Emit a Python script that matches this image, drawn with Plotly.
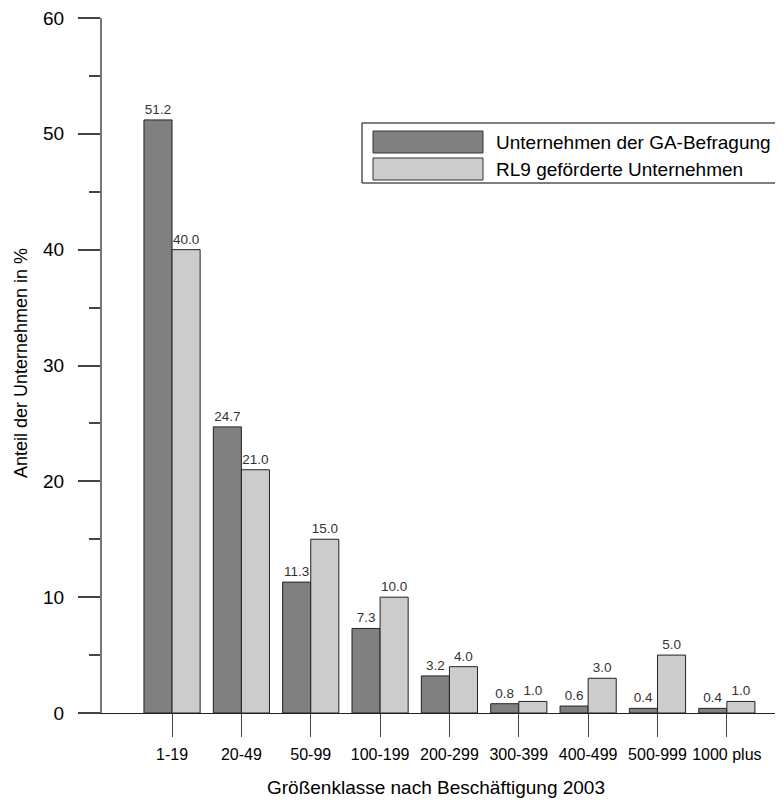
import plotly.graph_objects as go

categories = ["1-19", "20-49", "50-99", "100-199", "200-299", "300-399", "400-499", "500-999", "1000 plus"]
ga_values = [51.2, 24.7, 11.3, 7.3, 3.2, 0.8, 0.6, 0.4, 0.4]
rl9_values = [40.0, 21.0, 15.0, 10.0, 4.0, 1.0, 3.0, 5.0, 1.0]
series_names = ["Unternehmen der GA-Befragung", "RL9 geförderte Unternehmen"]
y_ticks = [0, 10, 20, 30, 40, 50, 60]

OFF = 8  # browser body margin
W, H = 775, 801
L, R, T, B = 94, 0, 10, 96
pw, ph = W - L - R, H - T - B

def px(x):  # window pixel -> paper
    return (x - OFF - L) / pw

def py(y):
    return (H - B - (y - OFF)) / ph

font = "Liberation Sans, Arial, sans-serif"
dark = "#808080"
light = "#cccccc"

fig = go.Figure()
for name, vals, col in [(series_names[0], ga_values, dark), (series_names[1], rl9_values, light)]:
    fig.add_trace(go.Bar(
        x=categories, y=vals, name=name,
        marker=dict(color=col, line=dict(color="#222222", width=1)),
        text=[f"{v:.1f}" for v in vals], textposition="outside",
        textfont=dict(family=font, size=13.5, color="#333333"),
        cliponaxis=False, showlegend=False,
    ))

fig.update_layout(
    width=W, height=H,
    margin=dict(l=L, r=R, t=T, b=B, autoexpand=False),
    paper_bgcolor="white", plot_bgcolor="white",
    barmode="group", bargap=0.19, bargroupgap=0,
    font=dict(family=font, color="#000000"),
    uniformtext=dict(mode=False),
)
fig.update_xaxes(
    type="category", range=[-1.01, 8.81],
    showgrid=False, zeroline=False,
    showline=True, linecolor="#222222", linewidth=1,
    ticks="outside", ticklen=23, tickcolor="#444444", tickwidth=1,
    tickfont=dict(family=font, size=16, color="#000000"),
    ticklabelstandoff=4, ticklabeloverflow="allow",
)
fig.update_yaxes(
    range=[0, 60], tickvals=y_ticks,
    showgrid=False, zeroline=False,
    showline=True, linecolor="#777777", linewidth=2,
    ticks="outside", ticklen=22, tickcolor="#444444", tickwidth=1.5,
    tickfont=dict(family=font, size=19, color="#000000"),
    ticklabelstandoff=10, ticklabeloverflow="allow",
    minor=dict(dtick=5, ticks="outside", ticklen=11, tickcolor="#444444", tickwidth=1.5, showgrid=False),
)

# axis titles
fig.add_annotation(text="Größenklasse nach Beschäftigung 2003", xref="paper", yref="paper",
                   x=px(436), y=py(787), showarrow=False, font=dict(family=font, size=19, color="#000"),
                   xanchor="center", yanchor="middle")
fig.add_annotation(text="Anteil der Unternehmen in %", xref="paper", yref="paper",
                   x=px(21), y=py(363), showarrow=False, textangle=-90,
                   font=dict(family=font, size=18, color="#000"), xanchor="center", yanchor="middle")

# legend drawn manually
fig.add_shape(type="rect", xref="paper", yref="paper", x0=px(362), x1=px(782.5), y0=py(183), y1=py(123),
              line=dict(color="#000000", width=1), fillcolor="white", layer="above")
for i, (name, col) in enumerate([(series_names[0], dark), (series_names[1], light)]):
    y0 = 131 + i * 27
    fig.add_shape(type="rect", xref="paper", yref="paper", x0=px(373), x1=px(483),
                  y0=py(y0 + 22), y1=py(y0), line=dict(color="#333333", width=1), fillcolor=col, layer="above")
    fig.add_annotation(text=name, xref="paper", yref="paper", x=px(494), y=py(y0 + 11), showarrow=False,
                       xanchor="left", yanchor="middle", font=dict(family=font, size=19, color="#000"))

fig.write_html("out.html")
